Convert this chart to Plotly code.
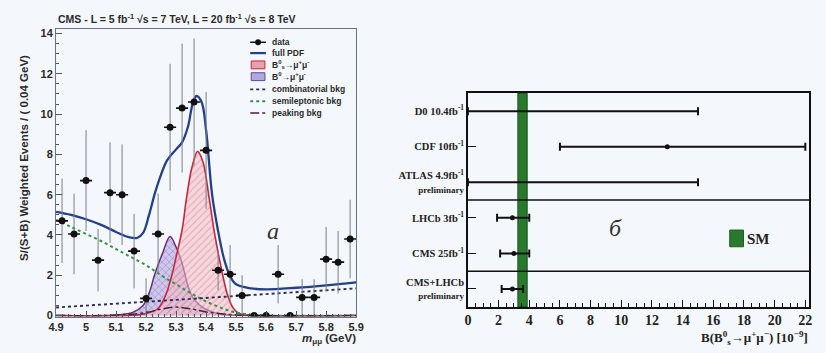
import plotly.graph_objects as go

W, H = 826, 353

# ---------------- left panel: CMS weighted mass distribution ----------------
mass_bins = [4.92, 4.96, 5.00, 5.04, 5.08, 5.12, 5.16, 5.20, 5.24, 5.28, 5.32, 5.36, 5.40,
             5.44, 5.48, 5.52, 5.56, 5.60, 5.64, 5.68, 5.72, 5.76, 5.80, 5.84, 5.88]
events = [4.7, 4.05, 6.7, 2.75, 6.1, 6.0, 3.2, 0.85, 4.05, 9.35, 10.3, 10.6, 8.2,
          2.25, 2.05, 1.0, 0.0, 0.0, 2.05, 0.0, 0.9, 0.9, 2.8, 2.65, 3.8]
events_err = [2.1, 2.0, 2.5, 1.55, 2.5, 2.5, 1.85, 1.0, 2.0, 3.15, 3.2, 3.15, 2.9,
              1.0, 1.45, 1.0, 0.0, 0.0, 1.45, 0.0, 0.9, 0.9, 1.6, 1.55, 1.95]
bin_half_width = 0.02

pdf_m = [4.90, 4.95, 5.00, 5.05, 5.10, 5.14, 5.17, 5.19, 5.21, 5.23, 5.25, 5.27, 5.30,
         5.32, 5.34, 5.355, 5.368, 5.385, 5.40, 5.42, 5.44, 5.46, 5.48, 5.50, 5.55,
         5.60, 5.70, 5.80, 5.90]
pdf_v = [5.15, 5.0, 4.78, 4.5, 4.15, 3.9, 3.85, 4.1, 5.0, 6.1, 7.0, 7.7, 8.25,
         8.6, 9.4, 10.5, 10.9, 10.6, 9.2, 6.0, 4.2, 2.8, 1.95, 1.55, 1.35,
         1.3, 1.38, 1.5, 1.65]

bs_m = [4.90, 5.15, 5.20, 5.24, 5.265, 5.285, 5.30, 5.32, 5.335, 5.352, 5.372, 5.39,
        5.41, 5.428, 5.45, 5.47, 5.49, 5.51, 5.55, 5.90]
bs_v = [0.0, 0.0, 0.1, 0.35, 1.0, 1.95, 2.9, 4.25, 5.85, 7.3, 8.15, 7.6,
        5.85, 4.1, 2.4, 1.1, 0.38, 0.1, 0.0, 0.0]

b0_m = [4.90, 5.10, 5.155, 5.19, 5.21, 5.23, 5.255, 5.28, 5.30, 5.32, 5.34, 5.36,
        5.395, 5.44, 5.50, 5.90]
b0_v = [0.0, 0.03, 0.15, 0.5, 1.1, 2.1, 3.1, 3.92, 3.4, 2.6, 1.45, 0.8,
        0.35, 0.1, 0.02, 0.0]

comb_m = [4.90, 5.40, 5.90]
comb_v = [0.40, 0.88, 1.35]

semi_m = [4.90, 4.95, 5.00, 5.05, 5.10, 5.15, 5.20, 5.25, 5.30, 5.35, 5.40, 5.45,
          5.50, 5.55, 5.60, 5.90]
semi_v = [4.75, 4.4, 4.05, 3.7, 3.3, 2.9, 2.5, 2.0, 1.55, 1.1, 0.7, 0.38,
          0.15, 0.05, 0.0, 0.0]

peak_m = [4.90, 5.10, 5.20, 5.25, 5.30, 5.35, 5.40, 5.50, 5.90]
peak_v = [0.0, 0.02, 0.15, 0.32, 0.42, 0.33, 0.18, 0.03, 0.0]

legend_labels = ["data", "full PDF", "B<sup>0</sup><sub>s</sub>\u2192\u03bc<sup>+</sup>\u03bc<sup>-</sup>",
                 "B<sup>0</sup>\u2192\u03bc<sup>+</sup>\u03bc<sup>-</sup>",
                 "combinatorial bkg", "semileptonic bkg", "peaking bkg"]

# ---------------- right panel: branching fraction summary ----------------
experiments = ["D0 10.4fb<sup>-1</sup>", "CDF 10fb<sup>-1</sup>",
               "ATLAS 4.9fb<sup>-1</sup><br><span style='font-size:9px'>preliminary</span>",
               "LHCb 3fb<sup>-1</sup>", "CMS 25fb<sup>-1</sup>",
               "CMS+LHCb<br><span style='font-size:9px'>preliminary</span>"]
upper_limit = [15.0, None, 15.0, None, None, None]
bf_central = [None, 13.0, None, 2.9, 3.0, 2.9]
bf_err_plus = [None, 9.0, None, 1.1, 1.0, 0.7]
bf_err_minus = [None, 7.0, None, 1.0, 0.9, 0.7]
sm_value, sm_err = 3.56, 0.30
bf_ticks = list(range(0, 23, 2))

PAPER = "#f4f7fb"
SANS = "Liberation Sans"
SERIF = "Liberation Serif"

fig = go.Figure()

# signal shapes with hatched fills
fig.add_trace(go.Scatter(x=b0_m, y=b0_v, mode="lines", line=dict(color="#6a2c7c", width=1.5, shape="spline"),
                         fill="tozeroy", fillcolor="rgba(170,160,215,0.6)",
                         fillpattern=dict(shape="x", fgcolor="rgba(90,50,130,0.6)", bgcolor="rgba(185,175,228,0.65)",
                                          size=5, solidity=0.3),
                         xaxis="x", yaxis="y", showlegend=False, hoverinfo="skip"))
fig.add_trace(go.Scatter(x=bs_m, y=bs_v, mode="lines", line=dict(color="#c4283c", width=1.6, shape="spline"),
                         fill="tozeroy", fillcolor="rgba(240,170,180,0.55)",
                         fillpattern=dict(shape="/", fgcolor="rgba(205,70,90,0.6)", bgcolor="rgba(245,190,198,0.55)",
                                          size=5, solidity=0.25),
                         xaxis="x", yaxis="y", showlegend=False, hoverinfo="skip"))

# background components
fig.add_trace(go.Scatter(x=semi_m, y=semi_v, mode="lines", line=dict(color="#3d8f4a", width=2, dash="dot", shape="spline"),
                         xaxis="x", yaxis="y", showlegend=False, hoverinfo="skip"))
fig.add_trace(go.Scatter(x=comb_m, y=comb_v, mode="lines", line=dict(color="#2e2e52", width=1.9, dash="dot"),
                         xaxis="x", yaxis="y", showlegend=False, hoverinfo="skip"))
fig.add_trace(go.Scatter(x=peak_m, y=peak_v, mode="lines", line=dict(color="#4a1f45", width=1.5, dash="dashdot", shape="spline"),
                         xaxis="x", yaxis="y", showlegend=False, hoverinfo="skip"))

# full fit
fig.add_trace(go.Scatter(x=pdf_m, y=pdf_v, mode="lines", line=dict(color="#22408c", width=2.3, shape="spline", smoothing=1.0),
                         xaxis="x", yaxis="y", showlegend=False, hoverinfo="skip"))

# data points
fig.add_trace(go.Scatter(x=mass_bins, y=events, mode="markers",
                         marker=dict(color="#111111", size=7),
                         error_y=dict(type="data", array=events_err, color="#7a808a", thickness=1, width=0),
                         error_x=dict(type="constant", value=bin_half_width, color="#111111", thickness=1.6, width=0),
                         xaxis="x", yaxis="y", showlegend=False))

# right panel: limits and measurements
n_rows = len(experiments)
row_y = [n_rows - i for i in range(n_rows)]
lim_x = [0.0 for v in upper_limit if v is not None]
lim_y = [row_y[i] for i, v in enumerate(upper_limit) if v is not None]
lim_p = [v for v in upper_limit if v is not None]
fig.add_trace(go.Scatter(x=lim_x, y=lim_y, mode="markers", marker=dict(size=1, color="#111"),
                         error_x=dict(type="data", array=lim_p, arrayminus=[0] * len(lim_p),
                                      color="#111111", thickness=2, width=4),
                         xaxis="x2", yaxis="y2", showlegend=False))
idx = [i for i, v in enumerate(bf_central) if v is not None]
fig.add_trace(go.Scatter(x=[bf_central[i] for i in idx], y=[row_y[i] for i in idx], mode="markers",
                         marker=dict(size=5, color="#111111"),
                         error_x=dict(type="data", array=[bf_err_plus[i] for i in idx],
                                      arrayminus=[bf_err_minus[i] for i in idx],
                                      color="#111111", thickness=2, width=4),
                         xaxis="x2", yaxis="y2", showlegend=False))


def px(x):
    return x / W


def py(y):
    return (H - y) / H


shapes = []
annotations = []

# SM band and row separators
shapes.append(dict(type="rect", xref="x2", yref="y2 domain", x0=sm_value - sm_err, x1=sm_value + sm_err,
                   y0=0, y1=1, fillcolor="#2a7a2e", line=dict(color="#1b5e20", width=1.2), layer="below"))
for sep in (3.5, 1.5):
    shapes.append(dict(type="line", xref="x2 domain", yref="y2", x0=0, x1=1, y0=sep, y1=sep,
                       line=dict(color="#111111", width=1.5)))

# SM key
shapes.append(dict(type="rect", xref="paper", yref="paper", x0=px(736), x1=px(750), y0=py(250), y1=py(233),
                   fillcolor="#2a7a2e", line=dict(color="#1b5e20", width=1)))
annotations.append(dict(x=px(752), y=py(242), xref="paper", yref="paper", text="SM", showarrow=False,
                        xanchor="left", yanchor="middle", font=dict(family=SERIF, size=15, color="#222", weight="bold")))

# left legend
rows = [42, 53, 65, 77, 90, 102, 114]
x0l, x1l = 247, 263
# data
shapes.append(dict(type="line", xref="paper", yref="paper", x0=px(x0l), x1=px(x1l), y0=py(rows[0]), y1=py(rows[0]),
                   line=dict(color="#111", width=1.5)))
shapes.append(dict(type="circle", xref="paper", yref="paper", x0=px(252), x1=px(258), y0=py(rows[0] + 3), y1=py(rows[0] - 3),
                   fillcolor="#111", line=dict(color="#111", width=0)))
# full PDF
shapes.append(dict(type="line", xref="paper", yref="paper", x0=px(x0l), x1=px(x1l), y0=py(rows[1]), y1=py(rows[1]),
                   line=dict(color="#22408c", width=2.2)))
# signal boxes
shapes.append(dict(type="rect", xref="paper", yref="paper", x0=px(x0l + 1), x1=px(x1l - 1), y0=py(rows[2] + 4), y1=py(rows[2] - 4),
                   fillcolor="rgba(225,140,155,0.8)", line=dict(color="#c4283c", width=1)))
shapes.append(dict(type="rect", xref="paper", yref="paper", x0=px(x0l + 1), x1=px(x1l - 1), y0=py(rows[3] + 4), y1=py(rows[3] - 4),
                   fillcolor="rgba(160,150,215,0.8)", line=dict(color="#5a4a9c", width=1)))
# background keys
for r, col, dash, wd in ((rows[4], "#2e2e52", "dot", 1.8), (rows[5], "#3d8f4a", "dot", 2), (rows[6], "#4a1f45", "dashdot", 1.5)):
    shapes.append(dict(type="line", xref="paper", yref="paper", x0=px(x0l), x1=px(x1l), y0=py(r), y1=py(r),
                       line=dict(color=col, width=wd, dash=dash)))
for r, lab in zip(rows, legend_labels):
    annotations.append(dict(x=px(267), y=py(r), xref="paper", yref="paper", text=lab, showarrow=False,
                            xanchor="left", yanchor="middle", font=dict(family=SANS, size=8.5, color="#2a2a2a", weight="bold")))

# left titles
annotations.append(dict(x=px(49), y=py(18), xref="paper", yref="paper",
                        text="CMS - L = 5 fb<sup>-1</sup> \u221as = 7 TeV, L = 20 fb<sup>-1</sup> \u221as = 8 TeV",
                        showarrow=False, xanchor="left", yanchor="middle",
                        font=dict(family=SANS, size=10.5, color="#2a2a2a", weight="bold")))
annotations.append(dict(x=px(17), y=py(160), xref="paper", yref="paper", textangle=-90,
                        text="S/(S+B) Weighted Events / ( 0.04 GeV)", showarrow=False,
                        xanchor="center", yanchor="middle",
                        font=dict(family=SANS, size=11.5, color="#2a2a2a", weight="bold")))
annotations.append(dict(x=px(357), y=py(353), xref="paper", yref="paper",
                        text="<i>m</i><sub>\u03bc\u03bc</sub> (GeV)", showarrow=False,
                        xanchor="right", yanchor="bottom",
                        font=dict(family=SANS, size=11.5, color="#2a2a2a", weight="bold")))
annotations.append(dict(x=px(262), y=py(234), xref="paper", yref="paper", text="<i>\u0430</i>", showarrow=False,
                        font=dict(family=SERIF, size=24, color="#333")))
annotations.append(dict(x=px(628), y=py(231), xref="paper", yref="paper", text="<i>\u0431</i>", showarrow=False,
                        font=dict(family=SERIF, size=24, color="#333")))
annotations.append(dict(x=px(705), y=py(343), xref="paper", yref="paper",
                        text="B(B<sup>0</sup><sub>s</sub>\u2192\u03bc<sup>+</sup>\u03bc<sup>\u2212</sup>) [10<sup>\u22129</sup>]",
                        showarrow=False, xanchor="left", yanchor="middle",
                        font=dict(family=SERIF, size=13, color="#222", weight="bold")))

fig.update_layout(
    width=W, height=H, autosize=False,
    margin=dict(l=0, r=0, t=0, b=0),
    paper_bgcolor=PAPER, plot_bgcolor=PAPER,
    showlegend=False,
    shapes=shapes, annotations=annotations,
    xaxis=dict(domain=[px(49), px(355)], range=[4.9, 5.9], dtick=0.1, tick0=4.9,
               ticks="inside", ticklen=6, tickcolor="#555", showgrid=False, zeroline=False,
               showline=True, linecolor="#6b7480", linewidth=1, mirror=True,
               minor=dict(dtick=0.02, ticks="inside", ticklen=3, tickcolor="#555"),
               tickfont=dict(family=SANS, size=11, color="#2a2a2a", weight="bold"),
               anchor="y"),
    yaxis=dict(domain=[py(321), py(28)], range=[-0.05, 14.25], dtick=2, tick0=0,
               ticks="inside", ticklen=6, tickcolor="#555", showgrid=False, zeroline=False,
               showline=True, linecolor="#6b7480", linewidth=1, mirror=True,
               minor=dict(dtick=0.5, ticks="inside", ticklen=3, tickcolor="#555"),
               tickfont=dict(family=SANS, size=11, color="#2a2a2a", weight="bold"),
               anchor="x"),
    xaxis2=dict(domain=[px(469), px(817)], range=[0, 22.25], tickvals=bf_ticks,
                ticks="inside", ticklen=7, tickcolor="#111", showgrid=False, zeroline=False,
                showline=True, linecolor="#111", linewidth=1.6, mirror=True,
                minor=dict(dtick=0.5, ticks="inside", ticklen=4, tickcolor="#111"),
                tickfont=dict(family=SERIF, size=14, color="#222", weight="bold"),
                anchor="y2"),
    yaxis2=dict(domain=[py(311), py(94)], range=[0.5, n_rows + 0.5], tickvals=row_y, ticktext=experiments,
                ticks="inside", ticklen=8, tickcolor="#111", showgrid=False, zeroline=False,
                showline=True, linecolor="#111", linewidth=1.6, mirror=True,
                tickfont=dict(family=SERIF, size=10.5, color="#222", weight="bold"),
                anchor="x2"),
)

fig.write_html("out.html")
